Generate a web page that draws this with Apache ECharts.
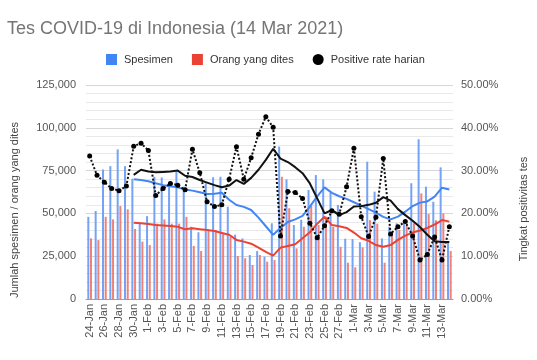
<!DOCTYPE html>
<html>
<head>
<meta charset="utf-8">
<script src="https://cdn.jsdelivr.net/npm/echarts@6/dist/echarts.min.js"></script>
<style>
html,body{margin:0;padding:0;background:#fff;}
#c{width:537px;height:360px;}
</style>
</head>
<body>
<div id="c"></div>
<script>
const categories = ['24-Jan','25-Jan','26-Jan','27-Jan','28-Jan','29-Jan','30-Jan','31-Jan',
'1-Feb','2-Feb','3-Feb','4-Feb','5-Feb','6-Feb','7-Feb','8-Feb','9-Feb','10-Feb','11-Feb','12-Feb','13-Feb','14-Feb',
'15-Feb','16-Feb','17-Feb','18-Feb','19-Feb','20-Feb','21-Feb','22-Feb','23-Feb','24-Feb','25-Feb','26-Feb','27-Feb','28-Feb',
'1-Mar','2-Mar','3-Mar','4-Mar','5-Mar','6-Mar','7-Mar','8-Mar','9-Mar','10-Mar','11-Mar','12-Mar','13-Mar','14-Mar'];

const spesimen = [48000,51400,75700,77600,87400,77600,70200,43800,48400,71400,
71000,68500,74400,65600,42200,39000,67600,71100,71400,53900,
37600,35400,25700,28000,24700,44200,89000,69900,43200,46300,
63700,72400,69900,62100,54900,35200,35000,33200,80200,62700,
35400,42200,44200,46100,67600,93300,65600,56800,76900,33000];

const orangDites = [35400,34400,48000,46500,54300,52400,40900,33500,31500,44000,
46500,44000,44000,48000,31000,28000,40000,40300,38400,36400,
25100,23800,19900,25700,21800,22800,71400,53000,29600,42200,
54300,43200,48100,42200,30500,21200,18500,30200,46100,44000,
21200,38400,40300,43200,44200,61700,49600,46000,50000,28000];

const positiveRate = [33.4,28.9,27.3,25.8,25.3,26.4,35.7,36.4,34.7,24.2,
25.8,27.0,26.6,25.5,35.0,29.5,22.7,21.6,22.0,28.0,
35.6,28.0,33.0,38.5,42.6,40.1,14.7,25.1,24.9,23.5,
17.7,14.3,17.1,20.6,19.8,26.2,35.2,19.2,14.6,19.1,
32.8,15.2,16.9,18.1,14.7,9.1,10.4,14.5,9.1,16.9];

const spesimenAvg = [null,null,null,null,null,null,69900,69500,68800,67600,
66500,65800,65200,64000,63300,62300,61300,61500,62100,58000,
54900,53800,52000,47500,42500,37500,41500,45000,46500,48500,
54000,60000,65200,62000,60000,58500,56500,54500,52500,50500,
48000,46500,48100,51000,54300,56300,57000,59800,65000,64000];

const orangAvg = [null,null,null,null,null,null,44600,44300,43800,43200,
43000,42700,42200,40700,41300,40800,40300,39700,38600,37500,
34500,33500,32300,30000,27500,25300,30000,31000,32000,35500,
39000,44000,48000,43200,42500,41500,38800,35500,34000,31500,
30500,31500,34500,37000,38800,40000,41500,43500,46100,45200];

const positiveAvg = [null,null,null,null,null,null,29.0,30.2,29.8,29.6,
29.7,29.8,30.0,28.8,28.5,27.8,27.2,26.6,26.1,26.5,
27.8,26.9,28.3,30.2,32.5,35.1,32.8,32.0,30.8,29.4,
27.0,23.5,20.0,20.8,19.6,20.3,21.6,21.7,22.0,22.5,
23.8,23.0,21.0,19.6,18.3,16.8,15.0,13.5,13.3,13.3];

const leftTicks = [0,25000,50000,75000,100000,125000];
const rightTicks = [0,10,20,30,40,50];

const BLUE = '#4285F4', RED = '#EA4335';
const chart = echarts.init(document.getElementById('c'), null, {renderer:'canvas'});
const labelColor = '#555';
const fontFam = '"Liberation Sans", Arial, sans-serif';

chart.setOption({
  animation:false,
  textStyle:{fontFamily:fontFam},
  title:{
    text:'Tes COVID-19 di Indonesia (14 Mar 2021)',
    left:7, top:20, padding:0,
    textStyle:{fontSize:18, fontWeight:'normal', color:'#757575', fontFamily:fontFam}
  },
  legend:{
    left:106, top:54, padding:0,
    itemWidth:11, itemHeight:11, itemGap:19,
    textStyle:{fontSize:11, color:'#333', fontFamily:fontFam, padding:[0,0,0,2]},
    data:[
      {name:'Spesimen', icon:'rect', itemStyle:{color:BLUE}},
      {name:'Orang yang dites', icon:'rect', itemStyle:{color:RED}},
      {name:'Positive rate harian', icon:'circle', itemStyle:{color:'#000'}}
    ]
  },
  grid:{left:86, right:84, top:85, bottom:61},
  xAxis:{
    type:'category', data:categories, boundaryGap:true,
    axisLine:{lineStyle:{color:'#9e9e9e', width:1}},
    axisTick:{show:false},
    axisLabel:{interval:1, rotate:90, fontSize:11, color:labelColor, margin:5, fontFamily:fontFam}
  },
  yAxis:[
    {
      type:'value', min:leftTicks[0], max:leftTicks[leftTicks.length-1], interval:25000,
      axisLine:{show:false}, axisTick:{show:false},
      axisLabel:{fontSize:11, color:labelColor, margin:10,
        formatter:v=>v.toLocaleString('en-US')},
      splitLine:{lineStyle:{color:'#d6d6d6'}},
      minorTick:{show:false, splitNumber:5},
      minorSplitLine:{show:true, lineStyle:{color:'#e9e9e9'}}
    },
    {
      type:'value', min:rightTicks[0], max:rightTicks[rightTicks.length-1], interval:10,
      axisLine:{show:false}, axisTick:{show:false},
      axisLabel:{fontSize:11, color:labelColor, margin:8,
        formatter:v=>v.toFixed(2)+'%'},
      splitLine:{show:false}
    }
  ],
  graphic:[
    {type:'text', x:15, y:210, rotation:Math.PI/2,
      style:{text:'Jumlah spesimen / orang yang dites', fontSize:11, fill:'#444', fontFamily:fontFam,
        textAlign:'center', textVerticalAlign:'middle'}},
    {type:'text', x:524, y:209, rotation:Math.PI/2,
      style:{text:'Tingkat positivitas tes', fontSize:11, fill:'#444', fontFamily:fontFam,
        textAlign:'center', textVerticalAlign:'middle'}}
  ],
  series:[
    {name:'Spesimen', type:'bar', data:spesimen, barWidth:2, barGap:'35%',
      itemStyle:{color:'#74a3f5'}},
    {name:'Orang yang dites', type:'bar', data:orangDites, barWidth:2,
      itemStyle:{color:'#f08179'}},
    {name:'Rata-rata spesimen', type:'line', data:spesimenAvg, showSymbol:false,
      lineStyle:{color:BLUE, width:2}, itemStyle:{color:BLUE}, smooth:false, z:3},
    {name:'Rata-rata orang', type:'line', data:orangAvg, showSymbol:false,
      lineStyle:{color:RED, width:2}, itemStyle:{color:RED}, z:3},
    {name:'Rata-rata positive rate', type:'line', yAxisIndex:1, data:positiveAvg, showSymbol:false,
      lineStyle:{color:'#111', width:2}, itemStyle:{color:'#111'}, z:4},
    {name:'Positive rate harian', type:'line', yAxisIndex:1, data:positiveRate,
      symbol:'circle', symbolSize:5, showSymbol:true, showAllSymbol:true,
      lineStyle:{color:'#111', width:2, type:[2,2]}, itemStyle:{color:'#000'}, z:5}
  ]
});
</script>
</body>
</html>
